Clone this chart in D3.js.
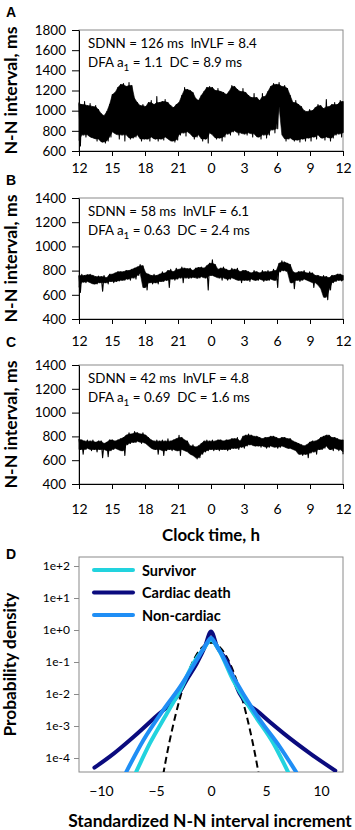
<!DOCTYPE html>
<html><head><meta charset="utf-8">
<script src="https://cdn.jsdelivr.net/npm/d3@7"></script>
<style>
body{margin:0;background:#fff}
svg{display:block}
text{font-family:Lato,'Open Sans',sans-serif;fill:#000}
</style>
</head><body><svg id="c" width="355" height="830"></svg>
<script>
// ---------- data ----------
const hourTicks = [0, 3, 6, 9, 12, 15, 18, 21, 24];
const hourLabels = ["12", "15", "18", "21", "0", "3", "6", "9", "12"];

// N-N interval envelopes, 15-min bins starting 12:00 (ms)
const aHi = [1080,1060,1090,1050, 1070,1040,1050,1010, 970,950,990,1060, 1160,1180,1230,1260,
  1270,1240,1280,1250, 1120,1080,1050,1060, 1040,1080,1100,1060, 1140,1080,1090,1110,
  1080,1050,1030,1060, 1080,1150,1230,1210, 1200,1180,1120,1100, 1150,1190,1230,1240,
  1230,1200,1220,1190, 1180,1160,1190,1250, 1240,1210,1190,1220, 1180,1150,1130,1170,
  1130,1100,1170,1140, 1190,1240,1270,1260, 1280,1240,1250,1220, 1150,1080,1100,1060,
  1040,1000,990,1010, 1000,1030,1060,1050, 1020,1110,1040,1060, 1080,1060,1100,1090];
const aLo = [650,760,740,760, 740,730,700,720, 690,680,700,740, 790,770,720,760,
  700,760,720,730, 740,760,700,720, 720,700,740,720, 700,720,710,740,
  720,700,690,710, 760,780,750,790, 770,720,740,760, 700,720,680,780,
  760,720,730,700, 740,770,760,790, 800,760,780,770, 760,780,740,770,
  740,720,760,730, 760,810,780,820, 1040,760,700,720, 730,700,710,690,
  720,700,730,700, 740,720,760,730, 710,740,700,730, 760,770,740,780];

const bHi = [760,770,760,765, 770,760,750,755, 750,760,740,770, 770,780,790,790,
  790,800,800,810, 820,830,850,840, 780,770,760,770, 760,770,790,780,
  800,810,790,820, 810,830,820,815, 820,800,820,825, 830,820,840,860,
  890,850,810,820, 830,810,800,820, 810,820,790,800, 800,790,780,800,
  790,780,800,790, 800,790,810,800, 860,880,870,860, 850,790,780,790,
  790,800,780,790, 780,760,760,750, 760,750,740,760, 760,770,770,760];
const bLo = [620,705,700,710, 700,690,690,700, 630,700,690,710, 700,710,715,720,
  720,730,720,740, 730,760,780,660, 640,700,690,700, 690,710,710,720,
  660,730,720,730, 740,700,740,735, 740,745,735,740, 750,740,640,760,
  760,750,740,720, 740,720,730,740, 730,720,700,720, 720,710,730,720,
  720,730,710,720, 720,730,720,660, 790,800,800,790, 700,650,720,710,
  720,730,720,710, 660,700,680,650, 580,560,640,700, 710,720,715,720];

const cHi = [780,770,760,770, 760,770,750,760, 760,740,750,770, 770,760,770,780,
  790,810,830,820, 840,830,820,830, 810,790,770,760, 770,760,770,760,
  780,760,770,780, 810,790,770,760, 720,730,710,720, 740,760,770,760,
  770,760,770,770, 760,770,770,780, 780,790,760,800, 810,820,810,800,
  800,790,780,790, 790,800,800,790, 780,790,790,780, 780,760,750,740,
  730,720,730,750, 760,760,770,790, 800,810,810,790, 790,780,770,770];
const cLo = [690,650,690,700, 680,690,670,690, 620,690,630,680, 690,700,690,680,
  640,730,740,750, 750,760,740,750, 740,720,700,690, 650,690,640,680,
  690,680,690,680, 640,690,680,670, 650,640,610,620, 650,670,680,690,
  680,690,680,690, 690,680,690,700, 700,690,710,700, 720,730,730,720,
  720,710,720,700, 710,720,710,700, 710,720,710,700, 700,690,680,650,
  640,650,620,660, 670,650,690,690, 700,720,690,680, 700,680,690,650];

const statsA = ["SDNN = 126 ms  lnVLF = 8.4", "1.1", "8.9"];
const statsB = ["SDNN = 58 ms  lnVLF = 6.1", "0.63", "2.4"];
const statsC = ["SDNN = 42 ms  lnVLF = 4.8", "0.69", "1.6"];

// Panel D: probability density of standardized increments
const groups = ["Survivor", "Cardiac death", "Non-cardiac"];
const colors = ["#22d3de", "#0b0b7e", "#1f8ef5"];
const survivorX = [-6.8, -5.55, -4.0, -2.8, -1.6, -0.6, 0, 0.6, 2.0, 3.85, 5.67, 7.0];
const survivorY = [3.7e-5, 2.9e-4, 2.5e-3, 0.0133, 0.091, 0.28, 0.5, 0.28, 0.0275, 2.5e-3, 2.9e-4, 3.7e-5];
const cardiacX = [-10.6, -9.2, -7.0, -5.0, -3.1, -2.2, -1.3, -0.55, 0, 0.55, 1.4, 2.6, 4.45, 6.6, 9.0, 11.3];
const cardiacY = [5.0e-5, 1.1e-4, 4.7e-4, 2.0e-3, 8.3e-3, 0.028, 0.09, 0.30, 0.9, 0.30, 0.115, 0.0105, 2.5e-3, 5.9e-4, 1.4e-4, 4.0e-5];
const noncardX = [-7.7, -6.15, -4.33, -2.8, -1.3, -0.5, 0, 0.5, 2.0, 4.45, 6.27, 7.73];
const noncardY = [3.7e-5, 3.6e-4, 3.2e-3, 0.017, 0.115, 0.33, 0.56, 0.33, 0.035, 1.55e-3, 2.2e-4, 3.7e-5];
const gaussX = [-4.35, -4, -3.5, -3, -2.5, -2, -1.5, -1, -0.5, 0, 0.5, 1, 1.5, 2, 2.5, 3, 3.5, 4, 4.35];
const gaussY = [3.0e-5, 1.34e-4, 8.7e-4, 4.4e-3, 0.0175, 0.054, 0.13, 0.242, 0.352, 0.399, 0.352, 0.242, 0.13, 0.054, 0.0175, 4.4e-3, 8.7e-4, 1.34e-4, 3.0e-5];
const dTicksY = [1e-4, 1e-3, 1e-2, 1e-1, 1e0, 1e1, 1e2];
const dTickLabelsY = ["1e-4", "1e-3", "1e-2", "1e-1", "1e+0", "1e+1", "1e+2"];
const dTicksX = [-10, -5, 0, 5, 10];

// ---------- drawing ----------
const svg = d3.select("#c");
const L = 79, R = 343;

function fit(sel, w) {
  const n = sel.node();
  const fs = parseFloat(sel.style("font-size"));
  const cur = n.getComputedTextLength();
  if (cur > 0) sel.style("font-size", (fs * w / cur) + "px");
  return sel;
}

const x = d3.scaleLinear().domain([0, 24]).range([L, R]);

const panels = [
  {letter: "A", top: 30, bottom: 151, dom: [600, 1800], ticks: d3.range(600, 1801, 200), hi: aHi, lo: aLo, stats: statsA, ly: 17, xl: 167},
  {letter: "B", top: 198, bottom: 319, dom: [400, 1400], ticks: d3.range(400, 1401, 200), hi: bHi, lo: bLo, stats: statsB, ly: 185, xl: 340},
  {letter: "C", top: 365, bottom: 484, dom: [400, 1400], ticks: d3.range(400, 1401, 200), hi: cHi, lo: cLo, stats: statsC, ly: 347, xl: 508}
];

let statSize = null;
panels.forEach(p => {
  const y = d3.scaleLinear().domain(p.dom).range([p.bottom, p.top]);
  const g = svg.append("g");
  // frame
  g.append("rect").attr("x", L).attr("y", p.top).attr("width", R - L).attr("height", p.bottom - p.top)
    .attr("fill", "none").attr("stroke", "#8a8a8a").attr("stroke-width", 1);
  const n = p.hi.length;
  const step = 24 / (n - 1);
  // solid core of the trace: running median of neighbouring bins' envelopes
  const med = (arr, i) => d3.median(arr.slice(Math.max(0, i - 1), i + 2));
  const coreHi = p.hi.map((h, i) => Math.min(h, med(p.hi, i)));
  const coreLo = p.lo.map((l, i) => Math.max(l, med(p.lo, i)));
  const area = d3.area().x((d, i) => x(i * step)).y0((d, i) => y(coreLo[i])).y1((d, i) => y(coreHi[i]));
  g.append("path").datum(p.hi).attr("d", area).attr("fill", "#000").attr("stroke", "#000").attr("stroke-width", 0.6);
  // beat-to-beat excursions: zigzag between upper and lower envelope of each bin
  const pts = [];
  p.hi.forEach((h, i) => {
    pts.push([i * step, h]);
    pts.push([Math.min(24, i * step + step / 2), p.lo[i]]);
  });
  const line = d3.line().x(d => x(d[0])).y(d => y(d[1]));
  g.append("path").datum(pts).attr("d", line).attr("fill", "none")
    .attr("stroke", "#000").attr("stroke-width", 1.1).attr("stroke-linejoin", "round");
  // axes
  const ya = g.append("g").attr("transform", `translate(${L},0)`)
    .call(d3.axisLeft(y).tickValues(p.ticks).tickFormat(d3.format("d")).tickSize(7).tickPadding(6).tickSizeOuter(0));
  ya.select(".domain").attr("stroke", "#000");
  ya.selectAll(".tick line").attr("stroke", "#000");
  ya.selectAll("text").style("font-size", "13.5px").style("font-family", "Lato");
  const xa = g.append("g").attr("transform", `translate(0,${p.bottom})`)
    .call(d3.axisBottom(x).tickValues(hourTicks).tickFormat((d, i) => hourLabels[i]).tickSize(5).tickSizeOuter(0));
  xa.select(".domain").attr("stroke", "#000");
  xa.selectAll(".tick line").attr("stroke", "#000");
  xa.selectAll("text").attr("y", null).attr("dy", null)
    .attr("transform", `translate(0,${p.xl - p.bottom})`).attr("dominant-baseline", "central")
    .style("font-size", "14px").style("font-family", "Lato");
  // letter
  svg.append("text").attr("x", 6).attr("y", p.ly).text(p.letter)
    .style("font-family", "'Liberation Sans',Arial,sans-serif").style("font-weight", "bold").style("font-size", "14px");
  // y title
  const yt = svg.append("text").attr("transform", `translate(17,${(p.top + p.bottom) / 2}) rotate(-90)`)
    .attr("text-anchor", "middle").style("font-weight", "bold").style("font-size", "15px").text("N-N interval, ms");
  fit(yt, 128);
  // stats
  const s1 = svg.append("text").attr("x", 88).attr("y", p.top + 18).style("white-space", "pre").style("font-size", "14px").text(p.stats[0]);
  if (statSize === null) { fit(s1, 169); statSize = s1.style("font-size"); }
  s1.style("font-size", statSize);
  const s2 = svg.append("text").attr("x", 88).attr("y", p.top + 37).style("white-space", "pre").style("font-size", statSize);
  s2.append("tspan").text("DFA a");
  s2.append("tspan").attr("dy", 4).style("font-size", "10px").text("1");
  s2.append("tspan").attr("dy", -4).text(` = ${p.stats[1]}  DC = ${p.stats[2]} ms`);
});

const xt = svg.append("text").attr("x", 211).attr("y", 541).attr("text-anchor", "middle")
  .style("font-weight", "bold").style("font-size", "16px").text("Clock time, h");
fit(xt, 98);

// ---------- Panel D ----------
const dTop = 557, dBot = 772;
const xd = d3.scaleLinear().domain([-12, 12]).range([L, R]);
const yd = d3.scaleLog().domain([1e-4, 1e2]).range([758, 566]);
const gd = svg.append("g");
gd.append("defs").append("clipPath").attr("id", "clipD").append("rect")
  .attr("x", L).attr("y", dTop).attr("width", R - L).attr("height", dBot - dTop);
gd.append("rect").attr("x", L).attr("y", dTop).attr("width", R - L).attr("height", dBot - dTop)
  .attr("fill", "none").attr("stroke", "#8a8a8a").attr("stroke-width", 1);
const yda = gd.append("g").attr("transform", `translate(${L},0)`)
  .call(d3.axisLeft(yd).tickValues(dTicksY).tickFormat((d, i) => dTickLabelsY[i]).tickSize(5).tickPadding(4).tickSizeOuter(0));
yda.select(".domain").remove();
yda.selectAll(".tick line").attr("stroke", "#8a8a8a");
yda.selectAll("text").style("font-size", "12px").style("font-family", "Lato");
const xda = gd.append("g").attr("transform", `translate(0,${dBot})`)
  .call(d3.axisBottom(xd).tickValues(dTicksX).tickSize(0).tickPadding(14).tickFormat(d3.format("d")));
xda.select(".domain").remove();
xda.selectAll("text").style("font-size", "14px").style("font-family", "Lato");

const lineD = d3.line().x(d => xd(d[0])).y(d => yd(d[1])).curve(d3.curveMonotoneX);
const plot = gd.append("g").attr("clip-path", "url(#clipD)");
plot.append("path").datum(d3.zip(gaussX, gaussY)).attr("d", lineD).attr("fill", "none")
  .attr("stroke", "#000").attr("stroke-width", 2).attr("stroke-dasharray", "7,4");
const series = [
  {x: cardiacX, y: cardiacY, c: colors[1]},
  {x: survivorX, y: survivorY, c: colors[0]},
  {x: noncardX, y: noncardY, c: colors[2]}
];
series.forEach(s => {
  plot.append("path").datum(d3.zip(s.x, s.y)).attr("d", lineD).attr("fill", "none")
    .attr("stroke", s.c).attr("stroke-width", 4).attr("stroke-linecap", "round");
});
// legend
const legY = [570, 592.5, 615];
groups.forEach((gname, i) => {
  gd.append("line").attr("x1", 94).attr("x2", 133).attr("y1", legY[i]).attr("y2", legY[i])
    .attr("stroke", colors[i]).attr("stroke-width", 4).attr("stroke-linecap", "round");
  gd.append("text").attr("x", 142).attr("y", legY[i]).attr("dominant-baseline", "central")
    .style("font-weight", "bold").style("font-size", "14.5px").text(gname);
});
svg.append("text").attr("x", 6).attr("y", 559).text("D")
  .style("font-family", "'Liberation Sans',Arial,sans-serif").style("font-weight", "bold").style("font-size", "14px");
const pt = svg.append("text").attr("transform", `translate(16,${(dTop + dBot) / 2}) rotate(-90)`)
  .attr("text-anchor", "middle").style("font-weight", "bold").style("font-size", "15px").text("Probability density");
fit(pt, 144);
const st = svg.append("text").attr("x", 210).attr("y", 827).attr("text-anchor", "middle")
  .style("font-weight", "bold").style("font-size", "15px").text("Standardized N-N interval increment");
fit(st, 284);
</script>
</body></html>
